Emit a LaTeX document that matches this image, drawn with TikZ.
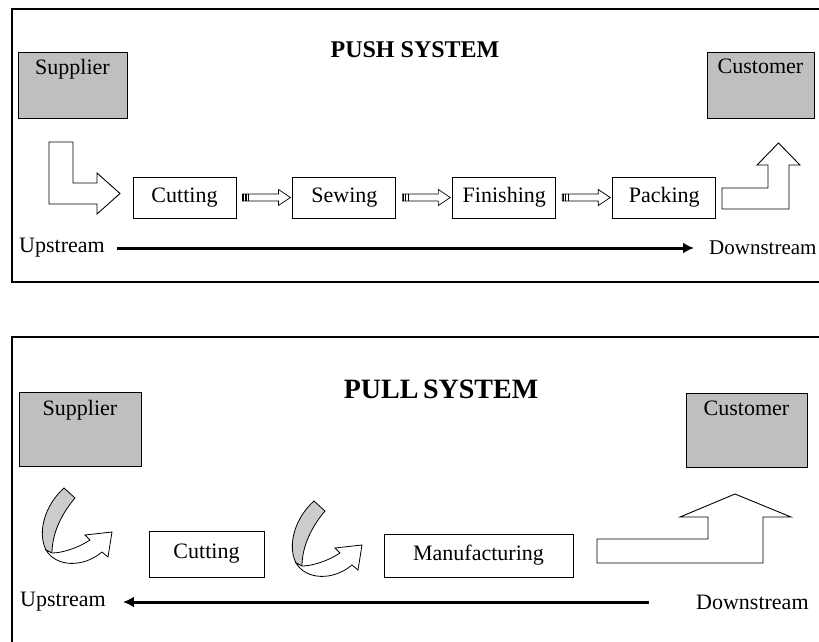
\documentclass[tikz,border=0pt]{standalone}
\usepackage{fontspec}
\setmainfont{Liberation Serif}
\usetikzlibrary{arrows.meta, positioning, calc}

% small block arrow with a striped tail, drawn between two stage nodes
\newcommand{\blockarrow}[2]{%
  \draw[line width=0.7pt, fill=white] let \p1=($(#1.east)+(6pt,0pt)$), \p2=($(#2.west)+(-2pt,0pt)$) in
    (\x1,\y1+3.5pt) -- (\x2-12pt,\y1+3.5pt) -- (\x2-12pt,\y1+8pt) -- (\x2,\y1)
    -- (\x2-12pt,\y1-8pt) -- (\x2-12pt,\y1-3.5pt) -- (\x1,\y1-3.5pt) -- cycle;
  \draw[line width=1.2pt] let \p1=($(#1.east)+(6pt,0pt)$) in
    (\x1+1pt,\y1+3.5pt) -- (\x1+1pt,\y1-3.5pt)
    (\x1+3.5pt,\y1+3.5pt) -- (\x1+3.5pt,\y1-3.5pt)
    (\x1+6pt,\y1+3.5pt) -- (\x1+6pt,\y1-3.5pt);
}

\begin{document}
\begin{tikzpicture}[
    x=1pt, y=-1pt,
    font=\fontsize{22}{25}\selectfont,
    frame/.style={draw, line width=2.5pt},
    party/.style={rectangle, draw, fill=black!25, line width=0.9pt, inner sep=0pt},
    stage/.style={rectangle, draw, fill=white, line width=0.9pt, inner sep=0pt, minimum height=41pt, minimum width=103pt},
    flow/.style={draw, line width=3pt, -{Latex[length=11pt,width=11pt]}},
    bigarrow/.style={draw, line width=0.9pt, fill=white},
    ribbon arrow/.pic={
        \draw[line width=0.8pt, fill=black!20] (1,0) -- (12,10) .. controls (0,24) and (-11,44) .. (-11,65)
            -- (-17,62) .. controls (-26,44) and (-18,17) .. cycle;
        \draw[line width=0.8pt, fill=white] (-17,62) .. controls (-7,79) and (20,80) .. (39,64)
            -- (45,69) -- (49,44) -- (22,47) -- (27,52) .. controls (15,60) and (-1,65) .. (-11,65) -- cycle;
    }
]
\useasboundingbox (0,0) rectangle (819,641);
\clip (0,0) rectangle (819,641);

% push system
\draw[frame] (12,9) rectangle (840,282);
\node[font=\fontsize{24}{28}\selectfont\bfseries] (pushtitle) at (415,50) {PUSH SYSTEM};

\node[party, minimum width=109pt, minimum height=66pt,
      label={[anchor=north, yshift=-4pt]north:Supplier}] (sup1) at (72.5,85) {};
\node[party, minimum width=107pt, minimum height=66pt,
      label={[anchor=north, yshift=-4pt]north:Customer}] (cus1) at (760.5,85) {};

\node[stage] (cut1) at (184.5,197.5) {Cutting};
\node[stage, right=56pt of cut1] (sew1) {Sewing};
\node[stage, right=56pt of sew1] (fin1) {Finishing};
\node[stage, right=56pt of fin1] (pack1) {Packing};

\blockarrow{cut1}{sew1}
\blockarrow{sew1}{fin1}
\blockarrow{fin1}{pack1}

\draw[bigarrow] (49,142) -- (73,142) -- (73,183) -- (97,183) -- (97,173) -- (120,193.5)
    -- (97,214) -- (97,204) -- (49,204) -- cycle;
\draw[bigarrow] (722,188) -- (768,188) -- (768,165) -- (757,165) -- (778.5,143) -- (800,165)
    -- (789,165) -- (789,209) -- (722,209) -- cycle;

\node[anchor=west, inner sep=0pt] (up1) at (19,248) {Upstream};
\node[anchor=west, inner sep=0pt, font=\fontsize{21}{24}\selectfont] (down1) at (709,248) {Downstream};
\draw[flow, shorten <=12pt, shorten >=15pt] (up1.east) -- (down1.west |- up1.east);

% pull system
\draw[frame] (12,337) rectangle (840,700);
\node[font=\fontsize{28}{32}\selectfont\bfseries] (pulltitle) at (441,389) {PULL\,SYSTEM};

\node[party, minimum width=122pt, minimum height=74pt,
      label={[anchor=north, yshift=-5pt]north:Supplier}] (sup2) at (80,429) {};
\node[party, minimum width=121pt, minimum height=74pt,
      label={[anchor=north, yshift=-5pt]north:Customer}] (cus2) at (746.5,430) {};

\node[stage, minimum width=115pt, minimum height=46pt] (cut2) at (206.5,554) {Cutting};
\node[stage, minimum width=189pt, minimum height=43pt] (man2) at (478.5,555.5) {Manufacturing};

\pic at (63,488) {ribbon arrow};
\pic at (313,501) {ribbon arrow};

\draw[bigarrow] (597,539) -- (708,539) -- (708,517) -- (680,517) -- (735,494) -- (791,517)
    -- (763,517) -- (763,563) -- (597,563) -- cycle;

\node[anchor=west, inner sep=0pt] (up2) at (20,602) {Upstream};
\node[anchor=west, inner sep=0pt] (down2) at (696,602) {Downstream};
\draw[flow, shorten <=47pt, shorten >=17pt] (down2.west) -- (up2.east |- down2.west);

\end{tikzpicture}
\end{document}
